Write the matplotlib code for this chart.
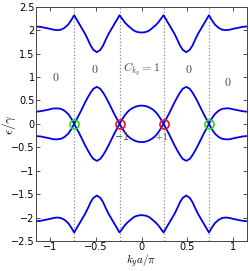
import numpy as np
import matplotlib
matplotlib.use("Agg")
import matplotlib.pyplot as plt

plt.rcParams['mathtext.fontset'] = 'cm'

# band values, k >= 0 half (bands are even in k)
k_half = [0, 0.03, 0.06, 0.09, 0.12, 0.15, 0.18, 0.21, 0.24,
          0.27, 0.30, 0.33, 0.36, 0.39, 0.42, 0.45, 0.4875,
          0.525, 0.555, 0.585, 0.615, 0.645, 0.675, 0.705, 0.735,
          0.765, 0.80, 0.84, 0.88, 0.92, 0.96, 1.00, 1.05, 1.10, 1.15]
top_band = [1.95, 1.955, 1.97, 2.00, 2.05, 2.10, 2.16, 2.24, 2.32,
            2.22, 2.12, 2.02, 1.92, 1.80, 1.67, 1.58, 1.53,
            1.58, 1.67, 1.80, 1.92, 2.02, 2.12, 2.22, 2.32,
            2.22, 2.12, 2.05, 2.01, 2.00, 2.01, 2.03, 2.05, 2.07, 2.08]
mid_band = [0.39, 0.385, 0.37, 0.345, 0.31, 0.26, 0.19, 0.10, 0.0,
            0.11, 0.22, 0.34, 0.46, 0.57, 0.67, 0.75, 0.79,
            0.75, 0.67, 0.57, 0.46, 0.34, 0.22, 0.11, 0.0,
            0.11, 0.21, 0.28, 0.32, 0.33, 0.33, 0.31, 0.29, 0.27, 0.26]

dirac_red = [-0.24, 0.24]
dirac_green = [-0.735, 0.735]
zone_labels = ['$0$', '$0$', '$C_{k_y}=1$', '$0$', '$0$']
zone_x = [-0.94, -0.51, 0.0, 0.51, 0.94]
zone_y = [1.0, 1.17, 1.16, 1.16, 0.89]

k_half = np.array(k_half)
k = np.concatenate([-k_half[:0:-1], k_half])
e1 = np.concatenate([np.array(top_band)[:0:-1], top_band])
e2 = np.concatenate([np.array(mid_band)[:0:-1], mid_band])

fig = plt.figure(figsize=(2.49, 2.71), dpi=100)
ax = fig.add_axes([0.145, 0.111, 0.847, 0.864])

for x in dirac_red + dirac_green:
    ax.axvline(x, color='#888888', ls=':', lw=0.9, zorder=1)

for band in [e1, e2, -e2, -e1]:
    ax.plot(k, band, color='#0000ee', lw=1.3, zorder=2)

ax.plot(dirac_red, [0, 0], 'o', ms=6.5, mfc='none', mec='#ee1111', mew=1.2, zorder=3)
ax.plot(dirac_green, [0, 0], 'o', ms=6.5, mfc='none', mec='#22dd22', mew=1.2, zorder=3)

ax.text(-0.22, -0.25, '$\\mathregular{-1}$', fontsize=7, color='#555555',
        ha='center', va='center')
ax.text(0.225, -0.29, '+1', fontsize=7, color='#777777', family='serif',
        ha='center', va='center')

for lab, x, y in zip(zone_labels, zone_x, zone_y):
    ax.text(x, y, lab, fontsize=8.5, color='#444444', ha='center', va='center')

ax.set_xlim(-1.15, 1.15)
ax.set_ylim(-2.5, 2.5)
ax.set_xticks([-1, -0.5, 0, 0.5, 1])
ax.set_xticklabels(['\u22121', '\u22120.5', '0', '0.5', '1'])
ax.set_yticks(np.arange(-2.5, 2.51, 0.5))
ax.set_yticklabels(['\u22122.5', '\u22122', '\u22121.5', '\u22121', '\u22120.5',
                    '0', '0.5', '1', '1.5', '2', '2.5'])
ax.tick_params(direction='in', top=True, right=True, labelsize=7, length=3,
               width=0.6, pad=1.0, color='#333333')
for s in ax.spines.values():
    s.set_linewidth(0.7)
    s.set_color('#444444')

# axis labels placed by hand so they stay inside the small canvas
fig.text(141 / 249, 1 - 264 / 271, '$k_y a/\\pi$', fontsize=8,
         ha='center', va='baseline')
fig.text(9 / 249, 1 - 124 / 271, '$\\epsilon/\\gamma$', fontsize=9.5,
         rotation=90, ha='center', va='center')

fig.savefig('out.png', dpi=100)
